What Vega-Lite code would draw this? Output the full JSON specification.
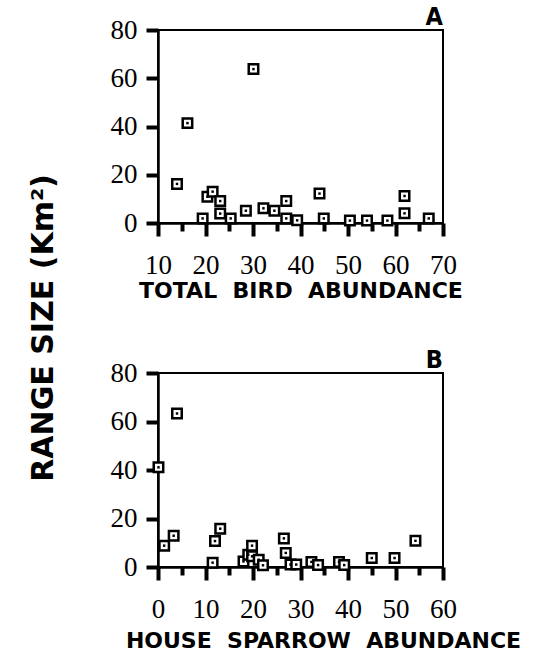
{
  "$schema": "https://vega.github.io/schema/vega-lite/v6.json",
  "padding": {"left": 28, "top": 4, "right": 5, "bottom": 0},
  "background": "white",
  "config": {
    "view": {"stroke": "black", "strokeWidth": 2},
    "axis": {
      "domainColor": "black", "domainWidth": 2.5, "ticks": true, "tickColor": "black", "tickWidth": 4,
      "labelFont": "Liberation Serif", "labelFontSize": 27, "labelColor": "black",
      "labelFlush": false, "labelOverlap": false,
      "grid": false, "titleColor": "black"
    }
  },
  "title": {"text": "RANGE SIZE (Km²)", "orient": "left", "anchor": "middle", "font": "DejaVu Sans", "fontWeight": "bold", "fontSize": 30, "color": "black", "offset": 50},
  "datasets": {
    "A": [
      {"total": 14.0, "range": 16.2}, {"total": 16.2, "range": 41.4}, {"total": 30.1, "range": 63.8},
      {"total": 19.4, "range": 1.9}, {"total": 20.4, "range": 10.9}, {"total": 21.5, "range": 13.0},
      {"total": 23.1, "range": 9.1}, {"total": 23.1, "range": 3.9}, {"total": 25.3, "range": 1.9},
      {"total": 28.5, "range": 5.1}, {"total": 32.2, "range": 6.1}, {"total": 34.5, "range": 5.1},
      {"total": 37.0, "range": 9.1}, {"total": 37.0, "range": 1.9}, {"total": 39.3, "range": 1.1},
      {"total": 44.0, "range": 12.2}, {"total": 44.9, "range": 1.9}, {"total": 50.4, "range": 1.0},
      {"total": 54.0, "range": 1.0}, {"total": 58.3, "range": 1.0}, {"total": 61.9, "range": 11.2},
      {"total": 61.9, "range": 4.0}, {"total": 67.0, "range": 1.9}
    ],
    "B": [
      {"sparrow": 0.1, "range": 41.1}, {"sparrow": 4.0, "range": 63.3}, {"sparrow": 1.3, "range": 8.8},
      {"sparrow": 3.3, "range": 12.9}, {"sparrow": 11.5, "range": 1.8}, {"sparrow": 12.0, "range": 10.7},
      {"sparrow": 13.1, "range": 15.8}, {"sparrow": 18.0, "range": 2.3}, {"sparrow": 19.0, "range": 5.1},
      {"sparrow": 19.8, "range": 8.8}, {"sparrow": 19.8, "range": 4.4}, {"sparrow": 21.2, "range": 3.0},
      {"sparrow": 22.1, "range": 0.7}, {"sparrow": 26.5, "range": 11.8}, {"sparrow": 26.9, "range": 5.8},
      {"sparrow": 27.9, "range": 1.0}, {"sparrow": 29.1, "range": 1.0}, {"sparrow": 32.3, "range": 2.1},
      {"sparrow": 33.7, "range": 0.8}, {"sparrow": 38.1, "range": 2.1}, {"sparrow": 39.2, "range": 0.8},
      {"sparrow": 45.0, "range": 3.7}, {"sparrow": 49.8, "range": 3.7}, {"sparrow": 54.2, "range": 10.8}
    ]
  },
  "spacing": 45,
  "vconcat": [
    {
      "title": {"text": "A", "anchor": "end", "frame": "group", "font": "DejaVu Sans Condensed, Liberation Sans, sans-serif", "fontWeight": "bold", "fontSize": 25, "color": "black", "offset": -14},
      "width": 285, "height": 193,
      "data": {"name": "A"},
      "layer": [
        {
          "mark": {"type": "point", "shape": "square", "filled": true, "fill": "white", "stroke": "black", "strokeWidth": 2.5, "size": 90, "opacity": 1},
          "encoding": {
            "x": {"field": "total", "type": "quantitative", "scale": {"domain": [10, 70], "nice": false, "zero": false},
                  "axis": {"orient": "bottom", "values": [10, 20, 30, 40, 50, 60, 70], "tickSize": 13, "labelPadding": 16,
                           "title": "TOTAL \u00a0BIRD \u00a0ABUNDANCE", "titleFont": "DejaVu Sans", "titleFontWeight": "bold", "titleFontSize": 22, "titlePadding": 2}},
            "y": {"field": "range", "type": "quantitative", "scale": {"domain": [0, 80], "nice": false},
                  "axis": {"values": [0, 20, 40, 60, 80], "tickSize": 12, "labelPadding": 9, "title": null}}
          }
        },
        {
          "mark": {"type": "point", "shape": "square", "filled": true, "color": "black", "size": 6, "opacity": 1},
          "encoding": {
            "x": {"field": "total", "type": "quantitative", "scale": {"domain": [10, 70], "nice": false, "zero": false},
                  "axis": {"orient": "bottom", "values": [15, 25, 35, 45, 55, 65], "tickSize": 8, "tickWidth": 4, "labels": false, "domain": false, "title": null}},
            "y": {"field": "range", "type": "quantitative"}
          }
        }
      ],
      "resolve": {"axis": {"x": "independent"}}
    },
    {
      "title": {"text": "B", "anchor": "end", "frame": "group", "font": "DejaVu Sans Condensed, Liberation Sans, sans-serif", "fontWeight": "bold", "fontSize": 25, "color": "black", "offset": -14},
      "width": 285, "height": 194,
      "data": {"name": "B"},
      "layer": [
        {
          "mark": {"type": "point", "shape": "square", "filled": true, "fill": "white", "stroke": "black", "strokeWidth": 2.5, "size": 90, "opacity": 1},
          "encoding": {
            "x": {"field": "sparrow", "type": "quantitative", "scale": {"domain": [0, 60], "nice": false},
                  "axis": {"orient": "bottom", "values": [0, 10, 20, 30, 40, 50, 60], "tickSize": 13, "labelPadding": 16,
                           "title": "HOUSE \u00a0SPARROW \u00a0ABUNDANCE", "titleFont": "DejaVu Sans", "titleFontWeight": "bold", "titleFontSize": 22, "titlePadding": 8, "titleX": 165}},
            "y": {"field": "range", "type": "quantitative", "scale": {"domain": [0, 80], "nice": false},
                  "axis": {"values": [0, 20, 40, 60, 80], "tickSize": 12, "labelPadding": 9, "title": null}}
          }
        },
        {
          "mark": {"type": "point", "shape": "square", "filled": true, "color": "black", "size": 6, "opacity": 1},
          "encoding": {
            "x": {"field": "sparrow", "type": "quantitative", "scale": {"domain": [0, 60], "nice": false},
                  "axis": {"orient": "bottom", "values": [5, 15, 25, 35, 45, 55], "tickSize": 8, "tickWidth": 4, "labels": false, "domain": false, "title": null}},
            "y": {"field": "range", "type": "quantitative"}
          }
        }
      ],
      "resolve": {"axis": {"x": "independent"}}
    }
  ]
}
